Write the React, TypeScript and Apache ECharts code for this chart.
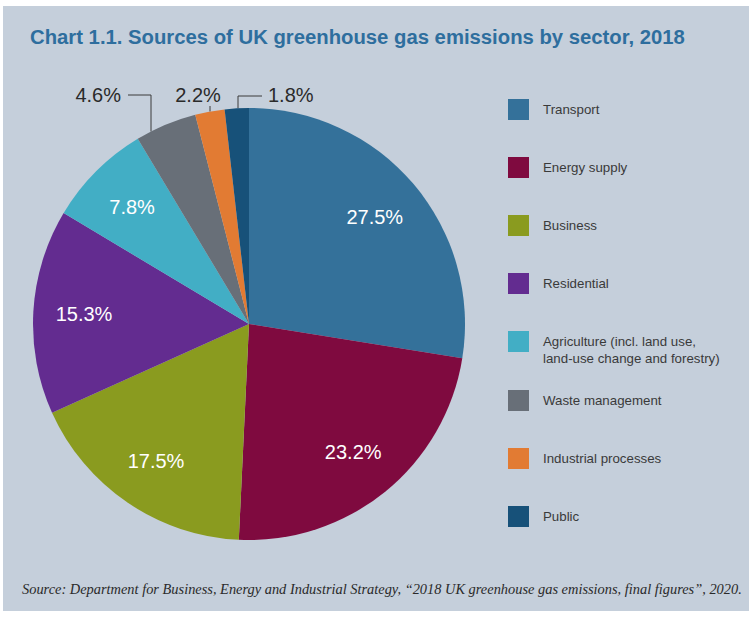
import React, { useEffect, useRef } from "react";
import * as echarts from "echarts";

const categories = [
  "Transport",
  "Energy supply",
  "Business",
  "Residential",
  "Agriculture (incl. land use, land-use change and forestry)",
  "Waste management",
  "Industrial processes",
  "Public",
];
const shares = [27.5, 23.2, 17.5, 15.3, 7.8, 4.6, 2.2, 1.8];
const colors = ["#34719a", "#7f0a3f", "#8a9b1f", "#632c90", "#42aec5", "#686f78", "#e27b33", "#175179"];
const titleText = "Chart 1.1. Sources of UK greenhouse gas emissions by sector, 2018";
const sourceText =
  "Source: Department for Business, Energy and Industrial Strategy, \u201c2018 UK greenhouse gas emissions, final figures\u201d, 2020.";

// layout constants
const CX = 249;
const CY = 324;
const R = 216;
const INNER_FRAC = 0.765;
// outside labels: anchor of text and leader-line bends (by data index)
const outside: Record<number, { tx: number; ty: number; align: string; line: number[][] }> = {
  5: { tx: 121, ty: 95, align: "right", line: [[151, 95], [128, 95]] },
  6: { tx: 198, ty: 95, align: "center", line: [[210, 106]] },
  7: { tx: 268, ty: 95, align: "left", line: [[238, 96], [262, 96]] },
};

const FONT = "'Liberation Sans', Arial, Helvetica, sans-serif";

export default function App() {
  const ref = useRef<HTMLDivElement>(null);
  useEffect(() => {
    document.body.style.margin = "0";
    const chart = echarts.init(ref.current!, undefined, { renderer: "svg" });
    const total = shares.reduce((a, b) => a + b, 0);
    const mids: number[] = [];
    let cum = 0;
    shares.forEach((v) => {
      mids.push(((cum + v / 2) / total) * Math.PI * 2);
      cum += v;
    });

    const data = categories.map((name, i) => {
      const item: any = { name, value: shares[i], itemStyle: { color: colors[i] } };
      if (outside[i]) {
        item.label = { position: "outside", color: "#2a2a2a" };
        item.labelLine = { show: true, lineStyle: { color: "#3a3a3a", width: 1 } };
      }
      return item;
    });

    const legendBase = {
      orient: "vertical",
      left: 508,
      padding: 0,
      icon: "rect",
      itemWidth: 21,
      itemHeight: 21,
      itemGap: 37,
      selectedMode: false,
      textStyle: { fontSize: 13.3, color: "#3a3a3a", fontFamily: FONT, padding: [0, 0, 0, 9], lineHeight: 17 },
    };

    chart.setOption({
      animation: false,
      backgroundColor: "#ffffff",
      title: [
        {
          text: titleText,
          left: 30,
          top: 27,
          padding: 0,
          textStyle: { fontSize: 20.3, fontWeight: "bold", color: "#2e6e9e", fontFamily: FONT },
        },
        {
          text: sourceText,
          left: 22,
          top: 582,
          padding: 0,
          textStyle: {
            fontSize: 14.4,
            fontWeight: "normal",
            fontStyle: "italic",
            color: "#2a2a2a",
            fontFamily: "'Liberation Serif', 'DejaVu Serif', serif",
          },
        },
      ],
      graphic: [
        {
          type: "rect",
          silent: true,
          z: -10,
          shape: { x: 3, y: 6, width: 746, height: 605 },
          style: { fill: "#c5cfdb" },
        },
      ],
      legend: [
        { ...legendBase, top: 99, data: categories.slice(0, 4) },
        {
          ...legendBase,
          top: 316,
          data: [categories[4]],
          formatter: (n: string) => "\n" + n.replace(", land-use", ",\nland-use"),
        },
        { ...legendBase, top: 390, data: categories.slice(5) },
      ],
      series: [
        {
          type: "pie",
          center: [CX, CY],
          radius: R,
          startAngle: 90,
          clockwise: true,
          avoidLabelOverlap: false,
          itemStyle: { borderWidth: 0 },
          label: {
            show: true,
            position: "inside",
            color: "#ffffff",
            fontSize: 20,
            fontFamily: FONT,
            formatter: (p: any) => `${p.value.toFixed(1)}%`,
          },
          labelLine: { show: false },
          emphasis: { disabled: true },
          labelLayout: (p: any) => {
            const i = p.dataIndex;
            const o = outside[i];
            if (o) {
              const lx = o.line[0][0];
              const ly = CY - Math.sqrt(R * R - (lx - CX) * (lx - CX));
              return {
                x: o.tx,
                y: o.ty,
                align: o.align,
                verticalAlign: "middle",
                labelLinePoints: [[lx, ly], ...o.line],
              };
            }
            const a = mids[i];
            return {
              x: CX + INNER_FRAC * R * Math.sin(a),
              y: CY - INNER_FRAC * R * Math.cos(a),
              align: "center",
              verticalAlign: "middle",
            };
          },
          data,
        },
      ],
    });
    return () => chart.dispose();
  }, []);
  return <div ref={ref} style={{ width: 751, height: 619 }} />;
}
